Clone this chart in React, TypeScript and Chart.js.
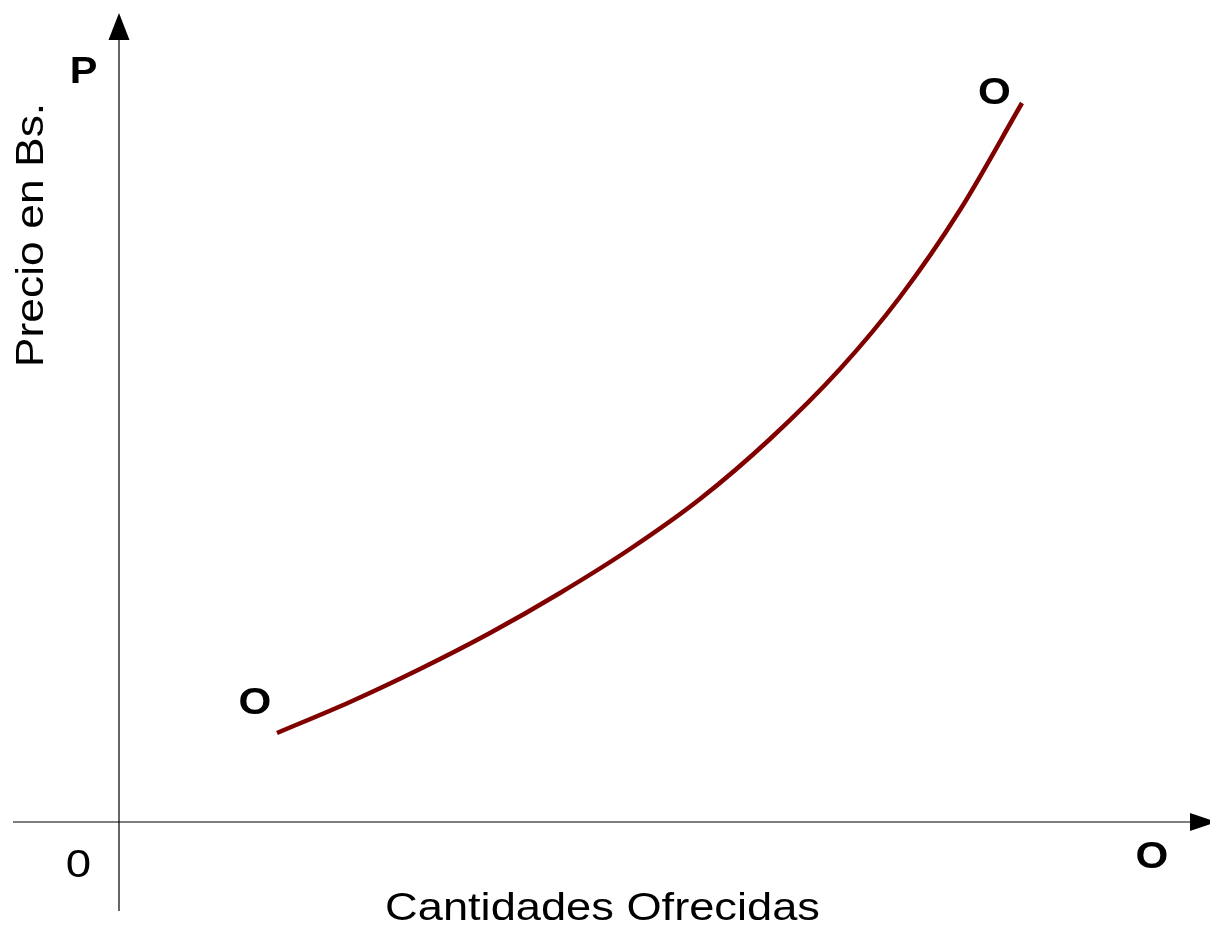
import React, { useEffect, useRef } from "react";
import { Chart, registerables } from "chart.js";

Chart.register(...registerables);

// Supply curve (Cantidades Ofrecidas vs Precio en Bs.), arbitrary units
const quantity = [15.8, 23.1, 30.1, 37.1, 44.1, 51.1, 58.1, 65.1, 72.1, 78.1, 84.1, 90.3];
const price = [8.9, 12.0, 15.3, 18.9, 22.9, 27.3, 32.3, 38.3, 45.3, 52.5, 61.2, 71.9];

const xLabel = "Cantidades Ofrecidas";
const yLabel = "Precio en Bs.";
const xAxisSymbol = "O";
const yAxisSymbol = "P";
const originLabel = "0";
const curveLabel = "O";

const X_MIN = -11.9;
const X_MAX = 109.1;
const Y_MIN = -10.5;
const Y_MAX = 82.2;
// axis extents (data units)
const X_AXIS_FROM = -10.6;
const X_AXIS_TO = 107.1;
const Y_AXIS_FROM = -8.9;
const Y_AXIS_TO = 78.2;

function drawText(
  ctx: CanvasRenderingContext2D,
  text: string,
  x: number,
  y: number,
  font: string,
  sx: number,
  rotate = 0
) {
  ctx.save();
  ctx.translate(x, y);
  if (rotate) ctx.rotate(rotate);
  ctx.scale(sx, 1);
  ctx.font = font;
  ctx.fillStyle = "#000";
  ctx.textAlign = "center";
  ctx.textBaseline = "alphabetic";
  ctx.fillText(text, 0, 0);
  ctx.restore();
}

const axesPlugin = {
  id: "supplyAxes",
  beforeDatasetsDraw(chart: any) {
    const ctx: CanvasRenderingContext2D = chart.ctx;
    const xs = chart.scales.x;
    const ys = chart.scales.y;
    const x0 = xs.getPixelForValue(0);
    const y0 = ys.getPixelForValue(0);
    const xa = xs.getPixelForValue(X_AXIS_FROM);
    const xb = xs.getPixelForValue(X_AXIS_TO);
    const ya = ys.getPixelForValue(Y_AXIS_FROM);
    const yb = ys.getPixelForValue(Y_AXIS_TO);
    ctx.save();
    ctx.strokeStyle = "#000";
    ctx.lineWidth = 1.2;
    ctx.beginPath();
    ctx.moveTo(xa, y0);
    ctx.lineTo(xb, y0);
    ctx.moveTo(x0, ya);
    ctx.lineTo(x0, yb);
    ctx.stroke();
    ctx.fillStyle = "#000";
    // y arrow
    ctx.beginPath();
    ctx.moveTo(x0 - 10.5, yb);
    ctx.lineTo(x0 + 10.5, yb);
    ctx.lineTo(x0, yb - 27);
    ctx.closePath();
    ctx.fill();
    // x arrow
    ctx.beginPath();
    ctx.moveTo(xb, y0 - 9);
    ctx.lineTo(xb, y0 + 9);
    ctx.lineTo(xb + 27, y0);
    ctx.closePath();
    ctx.fill();
    ctx.restore();
  },
  afterDraw(chart: any) {
    const ctx: CanvasRenderingContext2D = chart.ctx;
    const xs = chart.scales.x;
    const ys = chart.scales.y;
    const area = chart.chartArea;
    const x0 = xs.getPixelForValue(0);
    const y0 = ys.getPixelForValue(0);
    const xb = xs.getPixelForValue(X_AXIS_TO);
    const yb = ys.getPixelForValue(Y_AXIS_TO);
    const regular = "38px 'Liberation Sans', Arial, sans-serif";
    const bold = "bold 37px 'Liberation Sans', Arial, sans-serif";

    drawText(ctx, yAxisSymbol, x0 - 35.5, yb + 43, bold, 1.12);
    drawText(ctx, originLabel, x0 - 40.5, y0 + 55, regular, 1.2);
    drawText(ctx, xAxisSymbol, xb - 38, y0 + 46, bold, 1.14);
    drawText(ctx, xLabel, (area.left + area.right) / 2 - 2.5, area.bottom - 7, regular, 1.19);
    drawText(ctx, yLabel, x0 - 76, 235, "39px 'Liberation Sans', Arial, sans-serif", 1.14, -Math.PI / 2);

    const n = quantity.length;
    const sx = xs.getPixelForValue(quantity[0]);
    const sy = ys.getPixelForValue(price[0]);
    const ex = xs.getPixelForValue(quantity[n - 1]);
    const ey = ys.getPixelForValue(price[n - 1]);
    drawText(ctx, curveLabel, sx - 22, sy - 19, bold, 1.14);
    drawText(ctx, curveLabel, ex - 27.5, ey + 1, bold, 1.14);
  },
};

export default function App() {
  const ref = useRef<HTMLCanvasElement | null>(null);

  useEffect(() => {
    if (!ref.current) return;
    const chart = new Chart(ref.current, {
      type: "line",
      data: {
        datasets: [
          {
            label: "Oferta",
            data: quantity.map((q, i) => ({ x: q, y: price[i] })),
            borderColor: "#800000",
            borderWidth: 4.5,
            pointRadius: 0,
            fill: false,
            cubicInterpolationMode: "monotone",
            borderCapStyle: "butt",
          },
        ],
      },
      options: {
        responsive: false,
        animation: false,
        layout: { padding: 0 },
        plugins: {
          legend: { display: false },
          title: { display: false },
          tooltip: { enabled: false },
        },
        scales: {
          x: { type: "linear", min: X_MIN, max: X_MAX, display: false },
          y: { type: "linear", min: Y_MIN, max: Y_MAX, display: false },
        },
      },
      plugins: [axesPlugin],
    });
    return () => chart.destroy();
  }, []);

  return (
    <div style={{ position: "fixed", left: 0, top: 0, width: 1210, height: 927, background: "#fff" }}>
      <canvas ref={ref} width={1210} height={927} style={{ display: "block" }} />
    </div>
  );
}
